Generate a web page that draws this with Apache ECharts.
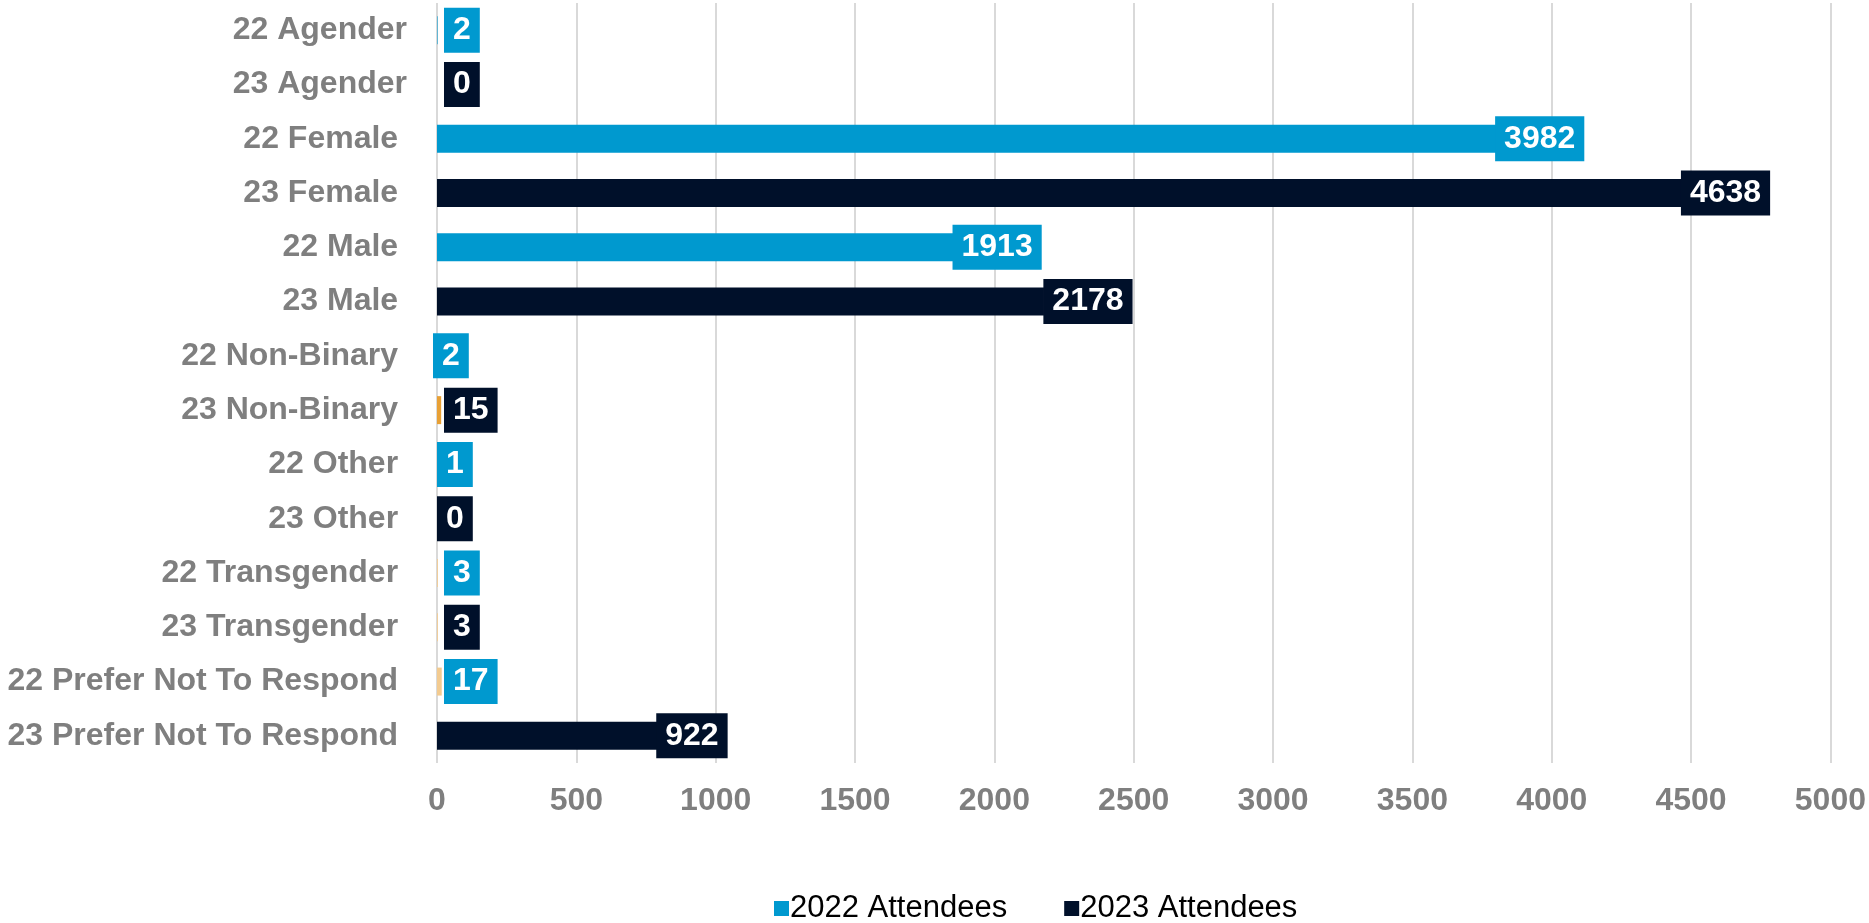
<!DOCTYPE html>
<html>
<head>
<meta charset="utf-8">
<title>Attendees by gender</title>
<script src="https://cdn.jsdelivr.net/npm/echarts@6/dist/echarts.min.js"></script>
<style>
  html, body { margin: 0; padding: 0; background: #fff; }
  #chartdata { width: 1869px; height: 923px; }
</style>
</head>
<body>
<div id="chartdata"></div>
<script>
// categories, top to bottom
var categories = [
  '22 Agender', '23 Agender', '22 Female', '23 Female', '22 Male', '23 Male',
  '22 Non-Binary', '23 Non-Binary', '22 Other', '23 Other',
  '22 Transgender', '23 Transgender', '22 Prefer Not To Respond', '23 Prefer Not To Respond'
]
var attendees2022 = [2, null, 3982, null, 1913, null, 2, null, 1, null, 3, null, 17, null]
var attendees2023 = [null, 0, null, 4638, null, 2178, null, 15, null, 0, null, 3, null, 922]
var xTicks = { min: 0, max: 5000, interval: 500 }

// label tweaks (px) - the labels in the original were dragged a bit by hand
var labelNudge = {
  '22 Female': -7, '23 Female': -4, '22 Male': 27, '23 Male': 44, '23 Prefer Not To Respond': -2,
  '22 Non-Binary': -11, '22 Other': -7, '23 Other': -7
}
// a few points had a different fill in the source
var pointColor = {
  '23 Non-Binary': '#E8A035',
  '22 Prefer Not To Respond': '#F3CB90',
  '22 Transgender': '#F3CB90',
  '23 Transgender': '#F3CB90'
}

var blue = '#0099CF'
var navy = '#00102A'
var gray = '#7F7F7F'
var font = 'Liberation Sans, Arial, sans-serif'

function buildData (vals, color) {
  var out = []
  for (var i = 0; i < vals.length; i++) {
    var v = vals[i]
    if (v === null) {
      out.push(null)
      continue
    }
    var name = categories[i]
    var nudge = labelNudge[name] || 0
    var label
    if (v >= 100) {
      // box centred on the bar end
      label = { position: ['100%', '50%'], align: 'center', verticalAlign: 'middle', offset: [nudge, 0] }
    } else {
      // tiny bars: box sits just right of the axis
      label = { position: [7 + nudge, '50%'], align: 'left', verticalAlign: 'middle' }
    }
    label.backgroundColor = color
    var item = { value: v, label: label }
    if (pointColor[name]) item.itemStyle = { color: pointColor[name] }
    out.push(item)
  }
  return out
}

var labelBase = {
  show: true,
  color: '#fff',
  fontFamily: font,
  fontWeight: 'bold',
  fontSize: 32,
  lineHeight: 32,
  padding: [7, 9, 6, 9]
}

var chart = echarts.init(document.getElementById('chartdata'))
var option = {
  animation: false,
  grid: { left: 437, right: 37, top: 3, bottom: 160, containLabel: false },
  legend: {
    left: 774,
    top: 893,
    padding: 0,
    itemWidth: 15,
    itemHeight: 15,
    itemGap: 57,
    icon: 'rect',
    textStyle: { fontFamily: font, fontSize: 31, color: '#000', padding: [0, 0, 0, -4] },
    data: ['2022 Attendees', '2023 Attendees']
  },
  xAxis: {
    type: 'value',
    min: xTicks.min,
    max: xTicks.max,
    interval: xTicks.interval,
    axisLine: { show: false },
    axisTick: { show: false },
    splitLine: { show: true, lineStyle: { color: '#D9D9D9', width: 2 } },
    axisLabel: {
      margin: 22,
      color: gray,
      fontFamily: font,
      fontWeight: 'bold',
      fontSize: 32,
      formatter: function (v) { return String(v) }
    }
  },
  yAxis: {
    type: 'category',
    inverse: true,
    data: categories,
    axisLine: { show: false },
    axisTick: { show: false },
    axisLabel: {
      margin: 30,
      color: gray,
      fontFamily: font,
      fontWeight: 'bold',
      fontSize: 32,
      // the source names carried a trailing space, except the Agender rows
      formatter: function (v) { return v.indexOf('Agender') >= 0 ? v : v + ' ' }
    }
  },
  series: [
    {
      name: '2022 Attendees',
      type: 'bar',
      barWidth: 28,
      barGap: '-100%',
      itemStyle: { color: blue },
      label: labelBase,
      data: buildData(attendees2022, blue)
    },
    {
      name: '2023 Attendees',
      type: 'bar',
      barWidth: 28,
      barGap: '-100%',
      itemStyle: { color: navy },
      label: labelBase,
      data: buildData(attendees2023, navy)
    }
  ]
}
chart.setOption(option)
</script>
</body>
</html>
